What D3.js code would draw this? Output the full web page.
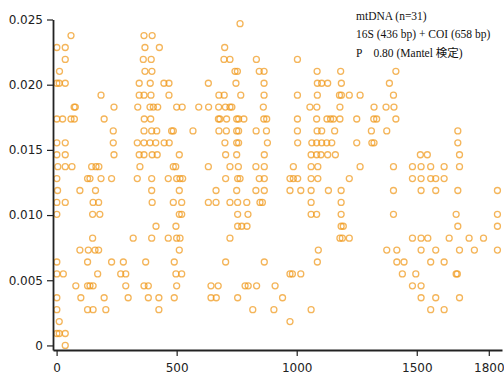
<!DOCTYPE html>
<html>
<head>
<meta charset="utf-8">
<script src="https://cdn.jsdelivr.net/npm/d3@7"></script>
<style>
  body { margin: 0; background: #fff; }
  .axis text { font-family: "DejaVu Sans", sans-serif; font-size: 12px; fill: #222; }
  .axis .domain { stroke: #222; stroke-width: 1.8; }
  .axis .tick line { stroke: #222; stroke-width: 1.2; }
  .note { font-family: "Liberation Serif", "Noto Sans CJK JP", serif; font-size: 11.5px; fill: #111; }
</style>
</head>
<body>
<script>
// p-distance = differences / total length (16S 436 bp + COI 658 bp)
var seqLength = 1094;

// geographic distance of each pair, grouped by number of differing sites (index = differences)
var distByDiff = [
  [36],
  [1, 11, 36],
  [11, 972],
  [1, 129, 152, 205, 426, 817, 905, 1060, 1558, 1614],
  [1, 101, 198, 298, 382, 426, 490, 643, 665, 754, 941, 1518, 1579, 1678],
  [80, 129, 139, 152, 288, 364, 382, 500, 643, 673, 785, 798, 833, 910, 1482, 1518],
  [1, 28, 171, 267, 288, 497, 521, 972, 982, 1017, 1440, 1496, 1664, 1669],
  [1, 129, 229, 278, 371, 490, 704, 865, 1086, 1417, 1447, 1558, 1614],
  [97, 132, 160, 175, 511, 1090, 1375, 1417, 1518, 1579, 1678, 1740, 1836],
  [150, 319, 396, 465, 500, 514, 722, 1180, 1190, 1219, 1482, 1518, 1546, 1635, 1718, 1778],
  [414, 497, 754, 771, 793, 1185, 1194, 1671, 1836],
  [1, 150, 180, 511, 521, 754, 797, 1060, 1083, 1185, 1403, 1664, 1836],
  [1, 36, 152, 175, 398, 486, 521, 632, 664, 722, 754, 792, 847, 857, 1060, 1185],
  [4, 97, 162, 396, 511, 664, 750, 830, 865, 972, 1017, 1060, 1132, 1185, 1403, 1518, 1579, 1671, 1836],
  [1, 129, 139, 185, 229, 336, 396, 465, 500, 514, 525, 704, 754, 764, 844, 865, 972, 986, 1004, 1060, 1088, 1219, 1482, 1518, 1558, 1579, 1614],
  [5, 36, 64, 146, 164, 176, 347, 486, 496, 632, 722, 757, 830, 865, 986, 1060, 1088, 1264, 1403, 1482, 1518, 1558, 1614, 1678],
  [1, 36, 239, 344, 364, 398, 419, 511, 704, 750, 865, 1060, 1083, 1101, 1129, 1161, 1515, 1544, 1678],
  [1, 36, 236, 336, 364, 389, 413, 448, 469, 701, 750, 758, 878, 1004, 1063, 1083, 1104, 1125, 1146, 1250, 1313, 1322, 1671],
  [236, 364, 396, 417, 479, 486, 568, 676, 707, 750, 758, 831, 874, 1003, 1085, 1104, 1158, 1311, 1375, 1671],
  [1, 25, 60, 74, 198, 365, 392, 674, 680, 708, 750, 758, 780, 863, 875, 1003, 1083, 1126, 1141, 1153, 1180, 1250, 1321, 1333, 1413],
  [73, 78, 239, 338, 389, 403, 421, 500, 523, 592, 633, 675, 703, 722, 730, 861, 1055, 1084, 1180, 1322, 1372, 1405],
  [185, 344, 364, 393, 468, 676, 698, 767, 864, 1003, 1086, 1178, 1186, 1219, 1264, 1403],
  [1, 11, 36, 344, 390, 447, 468, 632, 747, 864, 1086, 1104, 1129, 1186, 1386],
  [12, 368, 397, 743, 753, 844, 864, 1085, 1183, 1413],
  [36, 361, 394, 697, 722, 832, 1003],
  [1, 36, 368, 428, 700],
  [60, 364, 398],
  [764]
];

var xTicks = [0, 500, 1000, 1500, 1800];
var yTicks = [0, 0.005, 0.010, 0.015, 0.020, 0.025];
var noteLines = ["mtDNA (n=31)", "16S (436 bp) + COI (658 bp)", "P\u30000.80 (Mantel 検定)"];

var W = 504, H = 374;

var points = [];
distByDiff.forEach(function(row, k) {
  row.forEach(function(d) { points.push({x: d, y: k / seqLength}); });
});

var x = d3.scaleLinear().domain([-15, 1855]).range([53, 502]);
var y = d3.scaleLinear().domain([-0.00035, 0.025]).range([350, 19.5]);

var svg = d3.select("body").append("svg")
    .attr("width", W)
    .attr("height", H);

svg.append("g")
    .attr("class", "dots")
  .selectAll("circle")
    .data(points)
  .enter().append("circle")
    .attr("cx", function(d) { return x(d.x); })
    .attr("cy", function(d) { return y(d.y); })
    .attr("r", 3)
    .attr("fill", "none")
    .attr("stroke", "#f0981a")
    .attr("stroke-width", 1.3)
    .attr("stroke-opacity", 0.72);

svg.append("g")
    .attr("class", "axis")
    .attr("transform", "translate(0," + y.range()[0] + ")")
    .call(d3.axisBottom(x).tickValues(xTicks).tickSize(6).tickSizeOuter(0).tickPadding(7)
      .tickFormat(d3.format("d")));

svg.append("g")
    .attr("class", "axis")
    .attr("transform", "translate(" + x.range()[0] + ",0)")
    .call(d3.axisLeft(y).tickValues(yTicks).tickSize(6).tickSizeOuter(0).tickPadding(4)
      .tickFormat(function(d) { return d === 0 ? "0" : d3.format(".3f")(d); }));

svg.append("g")
  .selectAll("text")
    .data(noteLines)
  .enter().append("text")
    .attr("class", "note")
    .attr("x", 356)
    .attr("y", function(d, i) { return 19.5 + i * 18.5; })
    .text(function(d) { return d; });
</script>
</body>
</html>
